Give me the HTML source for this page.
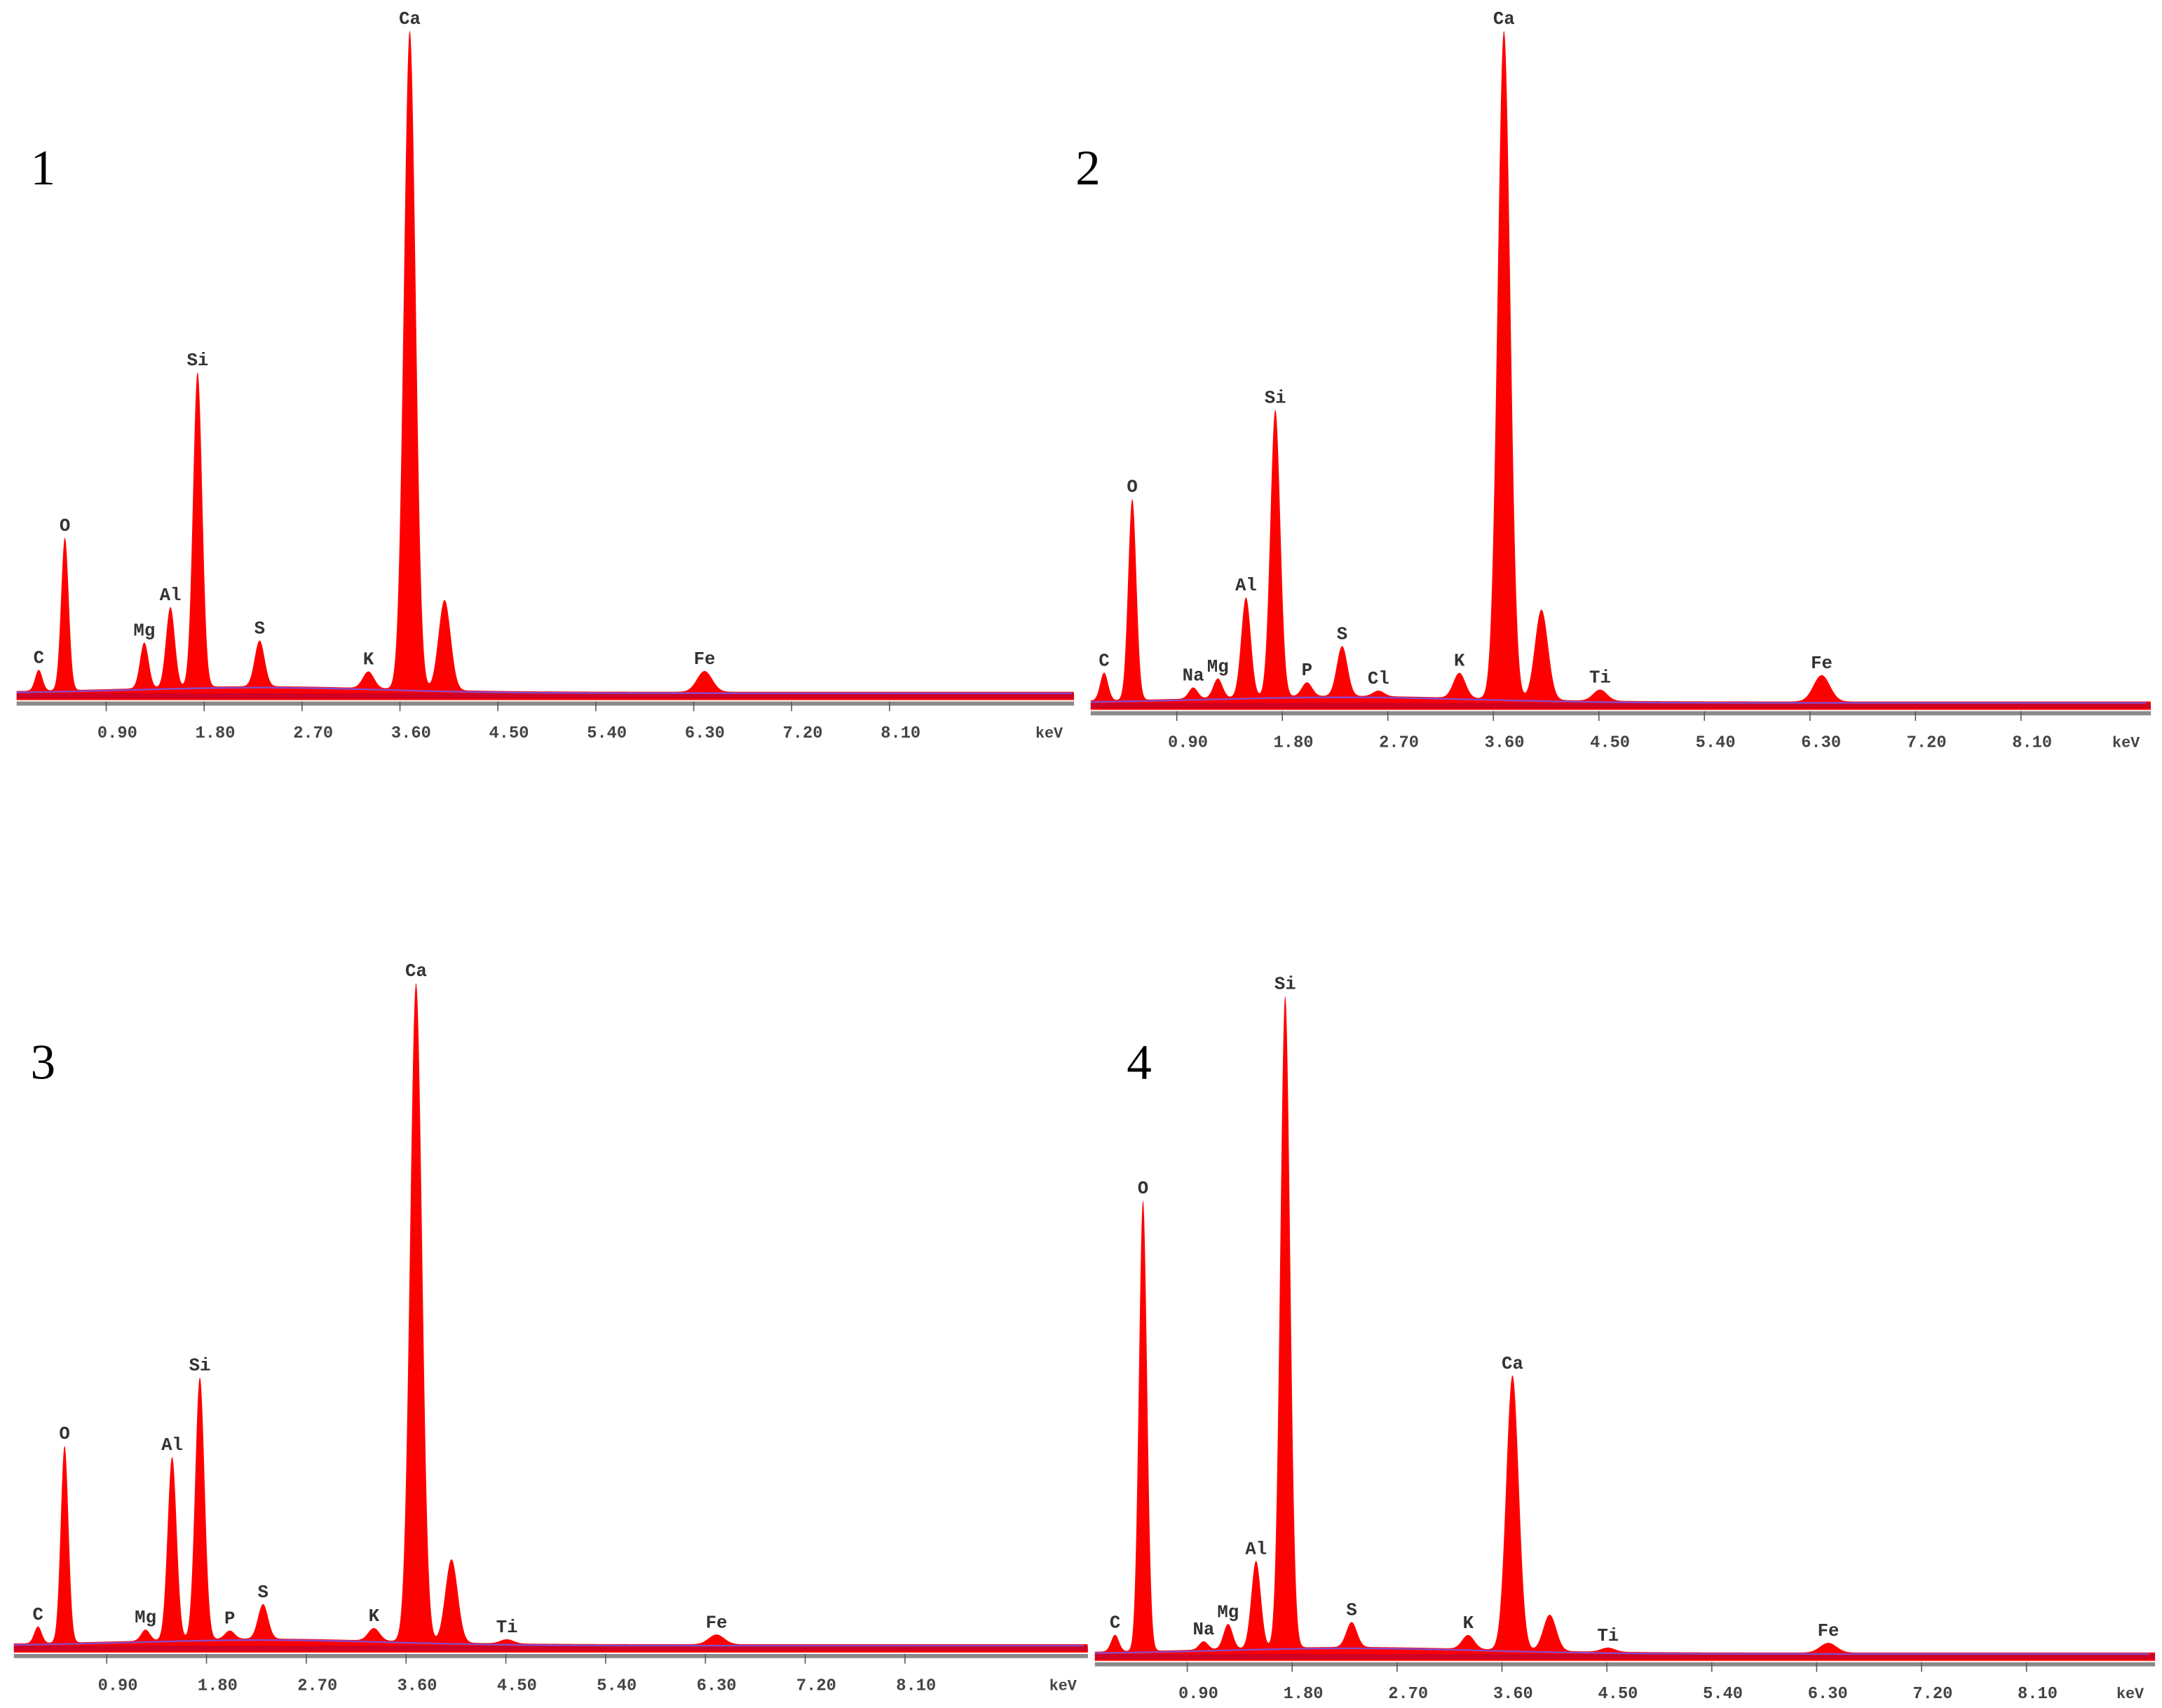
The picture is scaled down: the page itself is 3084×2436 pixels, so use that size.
<!DOCTYPE html>
<html><head><meta charset="utf-8"><style>
html,body{margin:0;padding:0;background:#fff;}
svg{display:block;}
</style></head><body>
<svg id="fig" width="3084" height="2436" viewBox="0 0 1560 1232" preserveAspectRatio="none" xmlns="http://www.w3.org/2000/svg"></svg>
<script>
// Element peaks: names, energies (keV), and heights (display units above baseline) per panel
const p1Names=["C","O","Mg","Al","Si","S","K","Ca","","Fe"];
const p1Energy=[0.28,0.52,1.25,1.49,1.74,2.31,3.31,3.69,4.01,6.40];
const p1Height=[15,110,33,58,227,33,12,475,65,15];
const p2Names=["C","O","Na","Mg","Al","Si","P","S","Cl","K","Ca","","Ti","Fe"];
const p2Energy=[0.28,0.52,1.04,1.25,1.49,1.74,2.01,2.31,2.62,3.31,3.69,4.01,4.51,6.40];
const p2Height=[20,145,8,14,72,207,10,36,4,18,482,65,8,19];
const p3Names=["C","O","Mg","Al","Si","P","S","K","Ca","","Ti","Fe"];
const p3Energy=[0.28,0.52,1.25,1.49,1.74,2.01,2.31,3.31,3.69,4.01,4.51,6.40];
const p3Height=[12,142,8,132,189,6,25,9,475,60,3,7];
const p4Names=["C","O","Na","Mg","Al","Si","S","K","Ca","","Ti","Fe"];
const p4Energy=[0.28,0.52,1.04,1.25,1.49,1.74,2.31,3.31,3.69,4.01,4.51,6.40];
const p4Height=[12,325,6,18,63,470,18,10,198,26,3,7];
const tickValues=[0.90,1.80,2.70,3.60,4.50,5.40,6.30,7.20,8.10];
const panelLabels=["1","2","3","4"];

const panels=[
 {names:p1Names,e:p1Energy,h:p1Height,x0:6,k:78.5,xl:12,xr:775,base:505,num:[22,133]},
 {names:p2Names,e:p2Energy,h:p2Height,x0:773,k:84.6,xl:787,xr:1552,base:512,num:[776,133]},
 {names:p3Names,e:p3Energy,h:p3Height,x0:5,k:80,xl:10,xr:785,base:1192,num:[22,778]},
 {names:p4Names,e:p4Energy,h:p4Height,x0:781,k:84.1,xl:790,xr:1555,base:1198,num:[813,778]}
];
const NS="http://www.w3.org/2000/svg";
const svg=document.getElementById('fig');
function mk(tag,attrs,parent){const el=document.createElementNS(NS,tag);for(const a in attrs)el.setAttribute(a,attrs[a]);(parent||svg).appendChild(el);return el;}

panels.forEach((P,pi)=>{
 const g=mk('g',{});
 
 
 const xs=e=>P.x0+e*P.k;
 const eMax=(P.xr-P.x0)/P.k;
 const bg=e=>6+4*Math.exp(-Math.pow((e-2.3)/1.6,2));
 const spec=e=>{let v=bg(e);for(let i=0;i<P.e.length;i++){const s=0.032+0.006*P.e[i];v+=P.h[i]*Math.exp(-0.5*Math.pow((e-P.e[i])/s,2));}return v;};
 let d='M'+P.xl+','+P.base;
 const eStart=(P.xl-P.x0)/P.k;
 for(let e=eStart;e<=eMax;e+=0.004){d+=' L'+xs(e).toFixed(2)+','+(P.base-spec(e)).toFixed(2);}
 d+=' L'+P.xr+','+P.base+' Z';
 const fill=mk('path',{d:d,fill:'#ff0000'},g);
 
 
 const band=mk('rect',{x:P.xl,y:P.base-5,width:P.xr-P.xl,height:4,fill:'#b0003a',opacity:0.6},g);
 
 
 let bd='';
 for(let e=eStart;e<=eMax;e+=0.05){bd+=(bd?' L':'M')+xs(e).toFixed(2)+','+(P.base-bg(e)+1).toFixed(2);}
 const bl=mk('path',{d:bd,fill:'none',stroke:'#6a5cff','stroke-width':1.2,opacity:0.8},g);
 
 
 const ax=mk('rect',{x:P.xl,y:P.base+1,width:P.xr-P.xl,height:3,fill:'#8a8a8a'},g);
 
 
 tickValues.forEach(t=>{
  const tx=xs(t);
  const tk=mk('line',{x1:tx,x2:tx,y1:P.base+1,y2:P.base+8,stroke:'#555','stroke-width':0.8},g);
  
  
  const tl=mk('text',{x:tx+8,y:P.base+27,'font-family':'Liberation Mono, monospace','font-size':12,'font-weight':'bold','text-anchor':'middle',fill:'#444'},g);
  tl.textContent=t.toFixed(2);
  
  
 });
 const kv=mk('text',{x:P.xr-18,y:P.base+27,'font-family':'Liberation Mono, monospace','font-size':11,'font-weight':'bold','text-anchor':'middle',fill:'#444'},g);
 kv.textContent='keV';
 
 
 P.names.forEach((n,i)=>{
  if(!n)return;
  const top=P.base-spec(P.e[i]);
  const lb=mk('text',{x:xs(P.e[i]),y:top-5,'font-family':'Liberation Mono, monospace','font-size':13,'font-weight':'bold','text-anchor':'middle',fill:'#333'},g);
  lb.textContent=n;
  
  
 });
 const num=mk('text',{x:P.num[0],y:P.num[1],'font-family':'Liberation Serif, serif','font-size':36,fill:'#000'},g);
 num.textContent=panelLabels[pi];
 
 
});
</script>
</body></html>
